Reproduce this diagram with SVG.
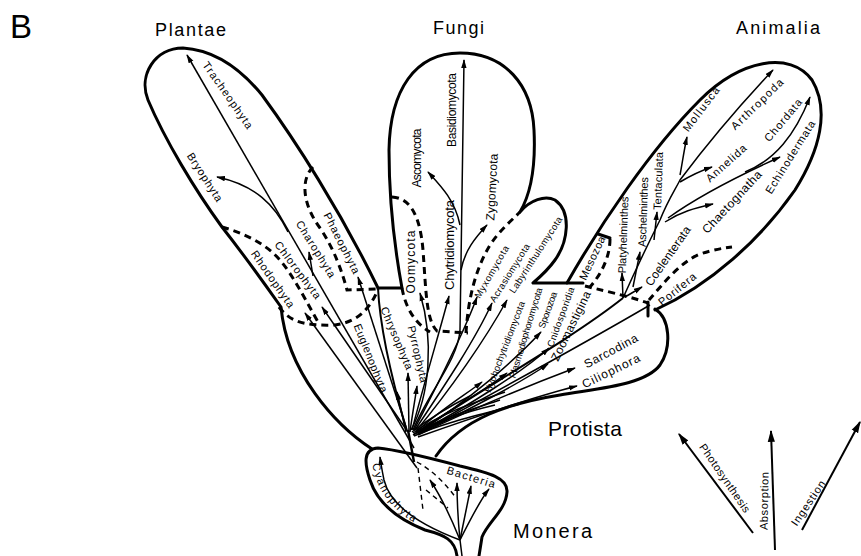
<svg xmlns="http://www.w3.org/2000/svg" width="861" height="556" viewBox="0 0 861 556">
<defs>
<marker id="ah" viewBox="0 0 10 6" refX="9" refY="3" markerWidth="9" markerHeight="6" markerUnits="userSpaceOnUse" orient="auto"><path d="M0,0 L10,3 L0,6 z" fill="#000"/></marker>
<marker id="ahb" viewBox="0 0 10 6" refX="9" refY="3" markerWidth="12" markerHeight="8" markerUnits="userSpaceOnUse" orient="auto"><path d="M0,0 L10,3 L0,6 z" fill="#000"/></marker>
<style>
.ol{fill:none;stroke:#000;stroke-width:3;stroke-linecap:round;stroke-linejoin:round}
.ds{fill:none;stroke:#000;stroke-width:3;stroke-dasharray:7 5}
.dt{fill:none;stroke:#000;stroke-width:1.4;stroke-dasharray:5 4}
.br{fill:none;stroke:#000;stroke-width:1.5}
.ar{fill:none;stroke:#000;stroke-width:1.5;marker-end:url(#ah)}
.big{fill:none;stroke:#000;stroke-width:2;marker-end:url(#ahb)}
text{font-family:"Liberation Sans",Arial,sans-serif;fill:#000}
.h{font-size:18px}
.t{font-size:11px}
.s{font-size:9.5px}
.m{font-size:12px}
</style>
</defs>
<rect width="861" height="556" fill="#fff"/>

<text x="10" y="38" style="font-size:33px" fill="#1a1a1a">B</text>

<g id="outline">
<path class="ol" d="M372,449 C335,425 287,372 281,307 C262,280 240,250 222,227 C195,190 165,140 148,100 C138,75 155,48 183,48 C215,50 240,68 262,95 C295,140 340,210 378,288 L402,288 C395,250 389,200 389,150 C390,90 415,53 460,53 C505,53 532,85 534,130 C536,170 530,195 520,212 C530,200 545,195 555,200 C572,212 568,242 555,260 C548,270 540,277 533,283 L583,283"/>
<path class="ol" d="M567,283 C600,225 650,150 700,100 C740,60 790,50 812,80 C830,110 820,150 795,190 C760,240 710,285 655,310"/>
<path class="ol" d="M655,309 C670,318 672,347 660,365 C645,385 600,388 560,395 C510,403 462,418 436,456"/>
<path class="ol" d="M648,302 L648,316"/>
<path class="ol" d="M598,234 L610,238"/>
<path class="ol" d="M457,556 C455,540 445,535 425,530 C400,520 378,505 370,480 C365,465 362,449 378,448 C400,450 430,458 460,466 C490,473 508,478 507,492 C506,510 488,522 482,537 L479,556"/>
</g>

<g id="plantae">
<text class="h" x="155" y="36" textLength="71">Plantae</text>
<path class="ds" d="M313,167 C300,180 303,205 320,228 C335,250 343,275 347,290 L378,289"/>
<path class="ds" d="M222,227 C240,232 258,240 272,252 C288,266 300,290 318,322"/>
<path class="ds" d="M279,307 C290,322 305,326 335,325 C360,322 372,305 378,289"/>
<g transform="translate(228,95) rotate(55)"><text class="t" text-anchor="middle" y="4" textLength="79">Tracheophyta</text></g>
<g transform="translate(205,177) rotate(57)"><text class="t" text-anchor="middle" y="4" textLength="56">Bryophyta</text></g>
<g transform="translate(342,243) rotate(63)"><text class="t" text-anchor="middle" y="4" textLength="67">Phaeophyta</text></g>
<g transform="translate(316,249) rotate(58)"><text class="t" text-anchor="middle" y="4" textLength="65">Charophyta</text></g>
<g transform="translate(298,270) rotate(53)"><text class="t" text-anchor="middle" y="4" textLength="69">Chlorophyta</text></g>
<g transform="translate(273,279) rotate(55)"><text class="t" text-anchor="middle" y="4" textLength="67">Rhodophyta</text></g>
</g>

<g id="fungi">
<text class="h" x="433" y="34" textLength="51">Fungi</text>
<path class="ds" d="M392,197 C410,198 420,215 423,250 C426,290 426,320 437,331 L468,333"/>
<path class="ds" d="M466,333 C468,300 475,270 490,245 C500,230 510,222 520,212"/>
<path class="ds" d="M402,288 C405,305 413,322 430,332"/>
<g transform="translate(452,110) rotate(-90)"><text class="m" text-anchor="middle" y="4" textLength="74">Basidiomycota</text></g>
<g transform="translate(417,158) rotate(-90)"><text class="m" text-anchor="middle" y="4" textLength="59">Ascomycota</text></g>
<g transform="translate(411,262) rotate(-90)"><text class="m" text-anchor="middle" y="4" textLength="63">Oomycota</text></g>
<g transform="translate(450,245) rotate(-90)"><text class="m" text-anchor="middle" y="4" style="font-size:13px" textLength="90">Chytridiomycota</text></g>
<g transform="translate(492,187) rotate(-87)"><text class="m" text-anchor="middle" y="4" textLength="67">Zygomycota</text></g>
<g transform="translate(492,272) rotate(-60)"><text class="s" text-anchor="middle" y="3" textLength="59">Myxomycota</text></g>
<g transform="translate(510,273) rotate(-58)"><text class="s" text-anchor="middle" y="3" textLength="67">Acrasiomycota</text></g>
<g transform="translate(536,255) rotate(-57)"><text class="s" text-anchor="middle" y="3" textLength="89">Labyrinthulomycota</text></g>
</g>

<g id="animalia">
<text class="h" x="736" y="34" textLength="84">Animalia</text>
<path class="ds" d="M610,239 C610,255 603,272 590,287"/>
<path class="ds" d="M585,286 C600,290 625,295 648,303"/>
<path class="ds" d="M649,300 C662,285 680,262 700,254 C715,249 725,248 732,247"/>
<g transform="translate(592,258) rotate(-65)"><text class="t" text-anchor="middle" y="4" textLength="47">Mesozoa</text></g>
<g transform="translate(623,235) rotate(-88)"><text class="t" text-anchor="middle" y="4" textLength="77">Platyhelminthes</text></g>
<g transform="translate(643,212) rotate(-88)"><text class="t" text-anchor="middle" y="4" textLength="70">Aschelminthes</text></g>
<g transform="translate(658,181) rotate(-88)"><text class="t" text-anchor="middle" y="4" textLength="58">Tentaculata</text></g>
<g transform="translate(668,256) rotate(-55)"><text class="m" text-anchor="middle" y="4" textLength="70">Coelenterata</text></g>
<g transform="translate(677,289) rotate(-39)"><text class="t" text-anchor="middle" y="4" textLength="45">Porifera</text></g>
<g transform="translate(732,202) rotate(-47)"><text class="m" text-anchor="middle" y="4" textLength="81">Chaetognatha</text></g>
<g transform="translate(726,163) rotate(-42)"><text class="t" text-anchor="middle" y="4" textLength="50">Annelida</text></g>
<g transform="translate(701,109) rotate(-53)"><text class="t" text-anchor="middle" y="4" textLength="53">Mollusca</text></g>
<g transform="translate(757,104) rotate(-44)"><text class="t" text-anchor="middle" y="4" textLength="68">Arthropoda</text></g>
<g transform="translate(783,120) rotate(-50)"><text class="t" text-anchor="middle" y="4" textLength="52">Chordata</text></g>
<g transform="translate(790,157) rotate(-58)"><text class="t" text-anchor="middle" y="4" textLength="84">Echinodermata</text></g>
</g>

<g id="protista">
<text x="548" y="436" style="font-size:21px" textLength="74">Protista</text>
<g transform="translate(371,358) rotate(68)"><text class="t" text-anchor="middle" y="4" textLength="73">Euglenophyta</text></g>
<g transform="translate(397,338) rotate(67)"><text class="t" text-anchor="middle" y="4" textLength="67">Chrysophyta</text></g>
<g transform="translate(418,354) rotate(77)"><text class="t" text-anchor="middle" y="4" textLength="58">Pyrrophyta</text></g>
<g transform="translate(505,347) rotate(-69)"><text class="s" text-anchor="middle" y="3" textLength="97">Hyphochytridiomycota</text></g>
<g transform="translate(526,333) rotate(-73)"><text class="s" text-anchor="middle" y="3" textLength="94">Plasmodiophoromycota</text></g>
<g transform="translate(548,310) rotate(-70)"><text class="s" text-anchor="middle" y="3" textLength="38">Sporozoa</text></g>
<g transform="translate(561,317) rotate(-70)"><text class="s" text-anchor="middle" y="3" textLength="63">Cnidosporidia</text></g>
<g transform="translate(571,326) rotate(-64)"><text class="m" text-anchor="middle" y="4" textLength="76">Zoomastigina</text></g>
<g transform="translate(611,351) rotate(-28)"><text class="m" text-anchor="middle" y="4" textLength="59">Sarcodina</text></g>
<g transform="translate(611,371) rotate(-26)"><text class="m" text-anchor="middle" y="4" textLength="63">Ciliophora</text></g>
</g>

<g id="monera">
<text x="513" y="538" style="font-size:20px" textLength="79">Monera</text>
<path class="dt" d="M418,468 L423,510"/>
<path class="dt" d="M417,462 C432,470 446,484 456,498"/>
<path class="dt" d="M426,490 L448,508"/>
<g transform="translate(471,477) rotate(17)"><text class="t" text-anchor="middle" y="4" textLength="50">Bacteria</text></g>
<path id="cyp" d="M372,462 C376,492 395,515 430,531" fill="none"/>
<text class="t"><textPath href="#cyp" startOffset="2" textLength="74">Cyanophyta</textPath></text>
</g>

<g id="modes">
<path class="big" d="M753,533 L679,434"/>
<path class="big" d="M775,550 L771,431"/>
<path class="big" d="M802,530 L860,422"/>
<g transform="translate(725,478) rotate(55.5)"><text class="t" text-anchor="middle" y="4" textLength="81">Photosynthesis</text></g>
<g transform="translate(764,501) rotate(-89)"><text class="t" text-anchor="middle" y="4" textLength="58">Absorption</text></g>
<g transform="translate(808,503) rotate(-56)"><text class="t" text-anchor="middle" y="4" textLength="52">Ingestion</text></g>
</g>

<g id="connectors">
<!-- Plantae -->
<path class="ar" d="M414,448 L187,55"/>
<path class="ar" d="M288,232 C275,205 255,185 217,177"/>
<path class="ar" d="M313,276 L309,252"/>
<path class="ar" d="M408,432 L322,307"/>
<path class="ar" d="M417,468 L305,313"/>
<path class="ar" d="M407,430 L358,277"/>
<path class="br" d="M378,288 C380,330 395,390 406,428" style="stroke-width:2"/>
<path class="ar" d="M406,432 L397,392"/>
<path class="ar" d="M409,432 L408,373"/>
<path class="ar" d="M410,432 C413,410 415,400 417,386"/>
<!-- Fungi -->
<path class="ar" d="M411,430 C430,395 434,340 420,293"/>
<path class="ar" d="M412,430 C425,380 440,330 449,296"/>
<path class="ar" d="M413,430 C430,390 458,360 460,330 L464,60"/>
<path class="ar" d="M460,225 C455,200 440,185 428,172"/>
<path class="ar" d="M461,270 C465,250 475,238 487,225"/>
<path class="ar" d="M414,430 C440,380 465,330 477,297"/>
<path class="ar" d="M415,430 C445,385 475,340 492,303"/>
<path class="ar" d="M416,431 C450,390 485,340 507,300"/>
<!-- Protista -->
<path class="ar" d="M416,432 C440,410 465,395 482,382"/>
<path class="ar" d="M417,432 C450,410 485,390 507,373"/>
<path class="ar" d="M417,433 C470,400 515,360 541,332"/>
<path class="ar" d="M418,433 C470,405 525,370 549,348"/>
<path class="ar" d="M418,434 C470,410 525,380 548,364"/>
<path class="br" d="M418,432 C480,390 570,340 623,298" style="stroke-width:2"/>
<path class="br" d="M418,434 C490,395 590,340 650,305"/>
<path class="ar" d="M418,435 C480,405 530,385 575,368"/>
<path class="ar" d="M418,437 C480,415 530,398 577,386"/>
<path class="br" d="M414,434 C440,418 470,410 500,400"/>
<path class="br" d="M414,436 C445,422 480,415 520,404"/>
<path class="br" d="M413,433 C440,414 470,404 505,392"/>
<path class="br" d="M413,435 C440,420 465,412 495,405"/>
<path class="br" d="M412,432 C430,418 450,406 470,396"/>
<path class="br" d="M408,430 L414,462" style="stroke-width:2.5"/>
<!-- Animalia -->
<path class="ar" d="M623,298 L622,273"/>
<path class="ar" d="M633,287 L640,252"/>
<path class="ar" d="M625,297 L642,287"/>
<path class="ar" d="M623,298 C640,260 650,240 660,220 C668,200 675,190 680,180 C710,140 740,105 773,70"/>
<path class="ar" d="M680,175 C682,165 684,150 687,137"/>
<path class="ar" d="M680,182 C690,176 700,171 712,167"/>
<path class="ar" d="M654,240 L657,212"/>
<path class="ar" d="M665,222 C680,212 695,208 713,204"/>
<path class="ar" d="M668,218 C700,195 740,175 780,157"/>
<path class="ar" d="M745,172 C775,160 795,135 810,97"/>
<!-- Monera -->
<path class="ar" d="M460,540 C420,525 390,505 384,480 C382,470 381,465 380,457"/>
<path class="br" d="M462,556 L460,540"/>
<path class="ar" d="M460,540 C450,515 440,495 430,480"/>
<path class="ar" d="M460,540 C458,520 457,500 457,483"/>
<path class="ar" d="M460,540 C464,520 468,500 471,486"/>
<path class="ar" d="M460,540 C470,520 480,500 489,489"/>
</g>
</svg>
